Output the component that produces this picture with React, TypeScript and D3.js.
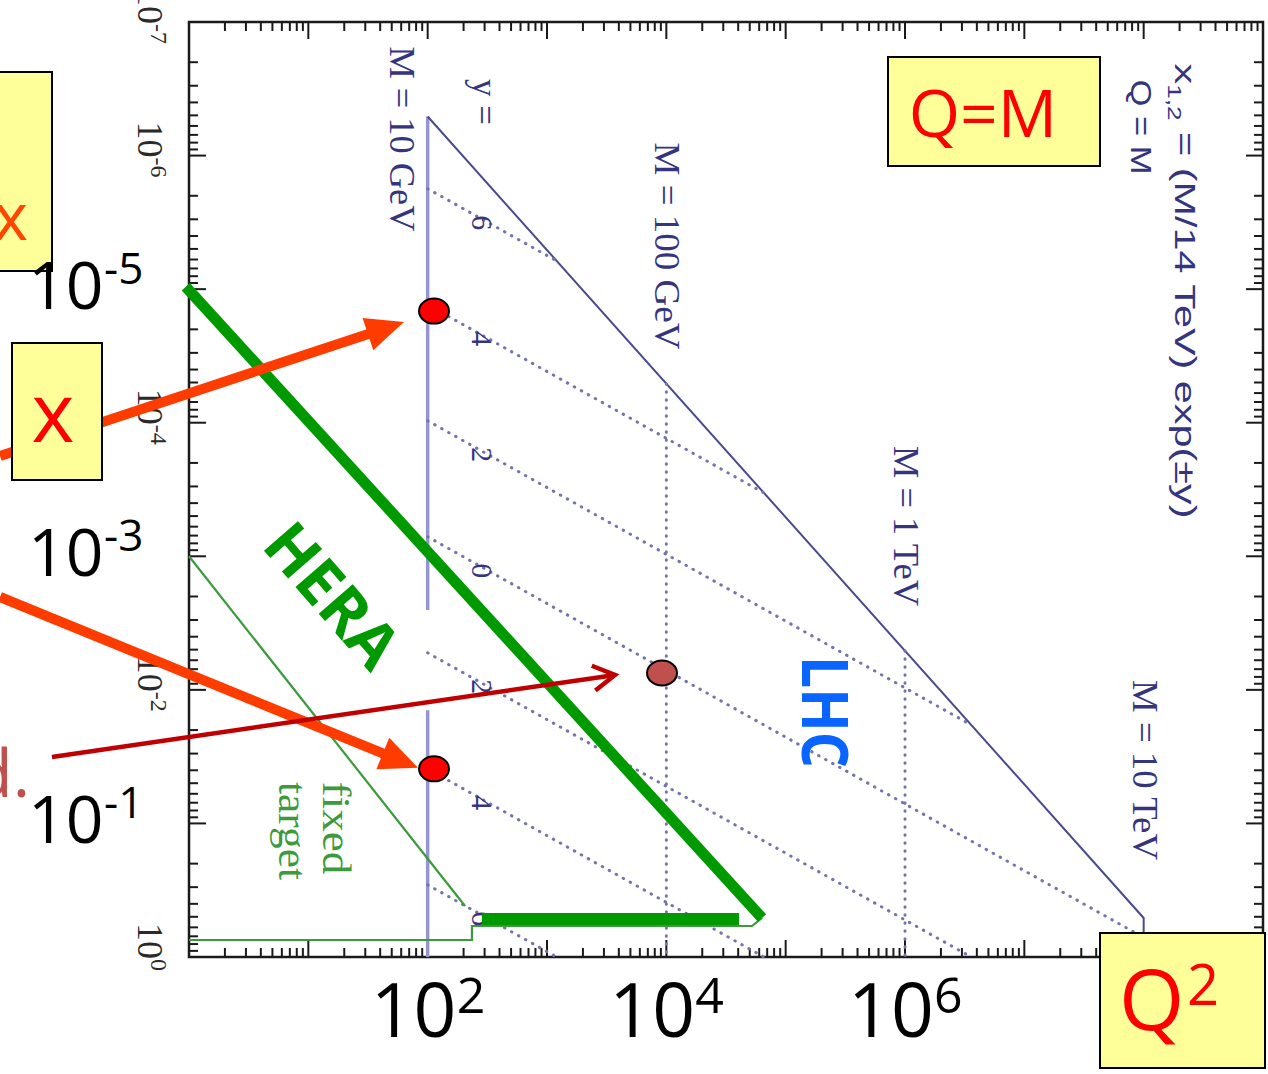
import React from "react";
import * as d3 from "d3";

const W = 1268;
const H = 1074;

// ---- axes: Q^2 (GeV^2) horizontally, parton x vertically (small x on top)
const q2Domain: [number, number] = [1, 1e9];
const xDomain: [number, number] = [1e-7, 1];
const q2Exponents = [0, 1, 2, 3, 4, 5, 6, 7, 8, 9];
const xExponents = [-7, -6, -5, -4, -3, -2, -1, 0];
const minorMultipliers = [2, 3, 4, 5, 6, 7, 8, 9];
const rotatedTickExponents = [-7, -6, -4, -2, 0];

// ---- LHC (14 TeV) kinematic region, Q = M
const limitQ2 = [100, 1e8, 1e8];
const limitX = [5.102e-7, 0.5102, 1];
// M = 10 GeV line, drawn in two pieces
const m10Q2 = 100;
const m10SegmentsX: [number, number][] = [
  [5.102e-7, 2.52e-3],
  [1.42e-2, 1],
];
// constant-mass dotted verticals
const massQ2 = [1e4, 1e6];
const massTopX = [5.102e-5, 5.102e-3];
const massLabels = ["M = 10 GeV", "M = 100 GeV", "M = 1 TeV", "M = 10 TeV"];
const massLabelQ2 = [100, 1e4, 1e6, 1e8];
const massLabelX = [7.5e-7, 4.75e-6, 5.93e-4, 0.0398];

// constant-rapidity dotted lines x = (M/14 TeV) exp(±y)
const rapidityLabels = ["6", "4", "2", "0", "2", "4", "6"];
const rapidityStartQ2 = 100;
const rapidityStartX = [1.7705e-6, 1.3083e-5, 9.667e-5, 7.1429e-4, 5.2779e-3, 0.038999, 0.28817];
const rapidityEndQ2 = [1204.2, 65751, 3.5899e6, 1e8, 3.5899e6, 65751, 1204.2];
const rapidityEndX = [6.144e-6, 3.3546e-4, 0.018316, 0.71429, 1, 1, 1];

// ---- fixed target and HERA
const fixedTargetQ2 = [1, 205.6];
const fixedTargetX = [1e-3, 0.415];
const heraEdgeQ2 = [1, 235, 235, 52240, 63400];
const heraEdgeX = [0.746, 0.746, 0.586, 0.586, 0.51];
const heraDiagQ2 = [0.94, 63400];
const heraDiagX = [9.6e-6, 0.51];
const heraFloorQ2 = [285, 40640];
const heraFloorX = [0.519, 0.519];

// ---- highlighted points
const dotQ2 = [113, 113, 9200];
const dotX = [1.46e-5, 0.039, 7.48e-3];
const dotFill = ["#ff0000", "#ff0000", "#c0504d"];

// ---- big axis labels
const bigXExponents = [2, 4, 6];
const bigYExponents = [-5, -3, -1];

const frame = { left: 189, right: 1263, top: 22, bottom: 957 };
const xS = d3.scaleLog().domain(q2Domain).range([frame.left, frame.right]);
const yS = d3.scaleLog().domain(xDomain).range([frame.top, frame.bottom]);

const NAVY = "#34347f";
const LINE_NAVY = "#4a4a8e";
const M_LINE = "#9595d0";
const DOT_LINE = "#7575ad";
const THIN_GREEN = "#3c9a3c";
const THICK_GREEN = "#009a00";
const ARROW = "#ff3c00";
const DARK_ARROW = "#c00000";
const BOX = "#ffff99";
const SANS = "'Open Sans', 'Liberation Sans', sans-serif";
const SERIF = "'Liberation Serif', 'DejaVu Serif', serif";
const HELV = "'Liberation Sans', Arial, sans-serif";

const pathOf = (qs: number[], xs: number[]) =>
  d3
    .line<number>()
    .x((_, i) => xS(qs[i]))
    .y((_, i) => yS(xs[i]))(qs) || "";

function BlockArrow({ from, tip, width, headLen, headHalf, color }: any) {
  const dx = tip[0] - from[0];
  const dy = tip[1] - from[1];
  const L = Math.hypot(dx, dy);
  const ux = dx / L;
  const uy = dy / L;
  const bx = tip[0] - headLen * ux;
  const by = tip[1] - headLen * uy;
  const px = -uy;
  const py = ux;
  return (
    <g>
      <line x1={from[0]} y1={from[1]} x2={bx + ux * 2} y2={by + uy * 2} stroke={color} strokeWidth={width} />
      <polygon
        points={`${tip[0]},${tip[1]} ${bx + headHalf * px},${by + headHalf * py} ${bx - headHalf * px},${by - headHalf * py}`}
        fill={color}
      />
    </g>
  );
}

function OpenArrow({ from, tip, width, arm, angle, color }: any) {
  const dx = tip[0] - from[0];
  const dy = tip[1] - from[1];
  const L = Math.hypot(dx, dy);
  const bx = -dx / L;
  const by = -dy / L;
  const a = (angle * Math.PI) / 180;
  const r = (s: number) => [
    tip[0] + arm * (Math.cos(s * a) * bx - Math.sin(s * a) * by),
    tip[1] + arm * (Math.sin(s * a) * bx + Math.cos(s * a) * by),
  ];
  const p1 = r(1);
  const p2 = r(-1);
  return (
    <g fill="none" stroke={color} strokeWidth={width} strokeLinejoin="miter">
      <line x1={from[0]} y1={from[1]} x2={tip[0] - 1.5 * (dx / L)} y2={tip[1] - 1.5 * (dy / L)} />
      <polyline points={`${p1[0]},${p1[1]} ${tip[0]},${tip[1]} ${p2[0]},${p2[1]}`} />
    </g>
  );
}

function VText({ x, y, size, family, fill, len, weight, children }: any) {
  return (
    <text
      transform={`translate(${x},${y}) rotate(90)`}
      textAnchor="middle"
      fontSize={size}
      fontFamily={family}
      fill={fill}
      fontWeight={weight}
      textLength={len}
      lengthAdjust={len ? "spacingAndGlyphs" : undefined}
    >
      {children}
    </text>
  );
}

export default function App() {
  const majorLen = 17;
  const minorLen = 9;

  const xTicks: { v: number; major: boolean }[] = [];
  q2Exponents.forEach((e) => {
    xTicks.push({ v: Math.pow(10, e), major: true });
    if (e < 9) minorMultipliers.forEach((m) => xTicks.push({ v: m * Math.pow(10, e), major: false }));
  });
  const yTicks: { v: number; major: boolean }[] = [];
  xExponents.forEach((e) => {
    yTicks.push({ v: Math.pow(10, e), major: true });
    if (e < 0) minorMultipliers.forEach((m) => yTicks.push({ v: m * Math.pow(10, e), major: false }));
  });

  const dots = dotQ2.map((q, i) => ({ cx: xS(q), cy: yS(dotX[i]), fill: dotFill[i] }));

  // annotation arrows, each ends just before its highlighted point
  const arrows = [
    { from: [0, 456], tip: [dots[0].cx - 30, dots[0].cy + 11], kind: "block" },
    { from: [0, 597], tip: [dots[1].cx - 16, dots[1].cy - 1], kind: "block" },
    { from: [52, 757], tip: [dots[2].cx - 47, dots[2].cy + 2], kind: "open" },
  ];

  return (
    <svg
      width={W}
      height={H}
      viewBox={`0 0 ${W} ${H}`}
      style={{ position: "absolute", left: 0, top: 0, display: "block" }}
    >
      <rect x={0} y={0} width={W} height={H} fill="#ffffff" />

      {/* frame and log ticks */}
      <g stroke="#1a1a1a" strokeWidth={2}>
        {xTicks.map((t, i) => {
          const x = xS(t.v);
          const l = t.major ? majorLen : minorLen;
          return (
            <g key={"xt" + i}>
              <line x1={x} x2={x} y1={frame.top} y2={frame.top + l} />
              <line x1={x} x2={x} y1={frame.bottom} y2={frame.bottom - l} />
            </g>
          );
        })}
        {yTicks.map((t, i) => {
          const y = yS(t.v);
          const l = t.major ? majorLen : minorLen;
          return (
            <g key={"yt" + i}>
              <line y1={y} y2={y} x1={frame.left} x2={frame.left + l} />
              <line y1={y} y2={y} x1={frame.right} x2={frame.right - l} />
            </g>
          );
        })}
        <rect
          x={frame.left}
          y={frame.top}
          width={frame.right - frame.left}
          height={frame.bottom - frame.top}
          fill="none"
          strokeWidth={2.5}
        />
      </g>

      {/* rotated x tick labels */}
      {rotatedTickExponents.map((e) => (
        <text
          key={"rl" + e}
          transform={`translate(138,${yS(Math.pow(10, e)) - 34}) rotate(90)`}
          fontFamily={SERIF}
          fontSize={36}
          fill="#2a2a2a"
        >
          10
          <tspan fontSize={24} dy={-13}>
            {e}
          </tspan>
        </text>
      ))}

      {/* LHC kinematic region */}
      {m10SegmentsX.map((s, i) => (
        <line
          key={"m10" + i}
          x1={xS(m10Q2)}
          x2={xS(m10Q2)}
          y1={yS(s[0])}
          y2={yS(s[1])}
          stroke={M_LINE}
          strokeWidth={3.5}
        />
      ))}
      <path d={pathOf(limitQ2, limitX)} fill="none" stroke={LINE_NAVY} strokeWidth={2} />
      <g fill="none" stroke={DOT_LINE} strokeWidth={3} strokeLinecap="round" strokeDasharray="0.5 7.5">
        {rapidityStartX.map((sx, i) => (
          <path key={"ry" + i} d={pathOf([rapidityStartQ2, rapidityEndQ2[i]], [sx, rapidityEndX[i]])} />
        ))}
        {massQ2.map((q, i) => (
          <path key={"mq" + i} d={pathOf([q, q], [massTopX[i], 1])} />
        ))}
      </g>

      {/* labels of the LHC region */}
      {massLabels.map((t, i) => (
        <VText
          key={"ml" + i}
          x={xS(massLabelQ2[i]) + (i === 0 ? -38 : -11)}
          y={yS(massLabelX[i])}
          size={35}
          family={SERIF}
          fill={NAVY}
          len={[185, 207, 160, 180][i]}
        >
          {t}
        </VText>
      ))}
      <VText x={473} y={102} size={35} family={SERIF} fill={NAVY}>
        y =
      </VText>
      {rapidityLabels.map((t, i) => (
        <VText key={"rlab" + i} x={472} y={yS(rapidityStartX[i]) + 34} size={30} family={SERIF} fill={NAVY}>
          {t}
        </VText>
      ))}
      <text
        transform="translate(1175,291) rotate(90)"
        textAnchor="middle"
        fontFamily={HELV}
        fontSize={30}
        fill={NAVY}
        textLength={455}
        lengthAdjust="spacingAndGlyphs"
      >
        x
        <tspan fontSize={19} dy={7}>
          1,2
        </tspan>
        <tspan dy={-7}> = (M/14 TeV) exp(±y)</tspan>
      </text>
      <VText x={1131} y={127} size={30} family={HELV} fill={NAVY} len={95}>
        Q = M
      </VText>

      {/* fixed target and HERA */}
      <g fill="none" stroke={THIN_GREEN} strokeWidth={2.2}>
        <path d={pathOf(fixedTargetQ2, fixedTargetX)} />
        <path d={pathOf(heraEdgeQ2, heraEdgeX)} />
      </g>
      <VText x={323} y={828} size={40} family={SERIF} fill={THIN_GREEN} len={93}>
        fixed
      </VText>
      <VText x={279} y={831} size={40} family={SERIF} fill={THIN_GREEN} len={98}>
        target
      </VText>
      <g fill="none" stroke={THICK_GREEN} strokeWidth={11}>
        <path d={pathOf(heraDiagQ2, heraDiagX)} />
        <path d={pathOf(heraFloorQ2, heraFloorX)} strokeWidth={12} />
      </g>
      <text
        transform="translate(334,594) rotate(49)"
        textAnchor="middle"
        dominantBaseline="central"
        fontFamily={SANS}
        fontWeight={700}
        fontSize={63}
        fill={THICK_GREEN}
      >
        HERA
      </text>
      <VText x={802} y={712} size={64} family={SANS} weight={700} fill="#0a64ff" len={112}>
        LHC
      </VText>

      {/* highlighted points */}
      {dots.map((d, i) => (
        <ellipse key={"dot" + i} cx={d.cx} cy={d.cy} rx={15} ry={12.5} fill={d.fill} stroke="#000" strokeWidth={2} />
      ))}

      {/* arrows */}
      {arrows.map((a, i) =>
        a.kind === "block" ? (
          <BlockArrow key={"ar" + i} from={a.from} tip={a.tip} width={10} headLen={38} headHalf={17} color={ARROW} />
        ) : (
          <OpenArrow key={"ar" + i} from={a.from} tip={a.tip} width={4.5} arm={25} angle={30} color={DARK_ARROW} />
        )
      )}

      {/* boxed annotations */}
      <g stroke="#000" strokeWidth={2} fill={BOX}>
        <rect x={-5} y={72} width={57} height={199} />
        <rect x={12} y={343} width={90} height={137} />
        <rect x={888} y={57} width={212} height={109} />
        <rect x={1100} y={933} width={165} height={135} />
      </g>
      <text x={28} y={240} textAnchor="end" fontFamily={SANS} fontSize={66} fill="#ff4500">
        x
      </text>
      <text x={53} y={442} textAnchor="middle" fontFamily={SANS} fontSize={82} fill="#ff0000">
        x
      </text>
      <text x={983} y={137} textAnchor="middle" fontFamily={SANS} fontSize={66} fill="#ff0000">
        Q=M
      </text>
      <text x={1119} y={1030} fontFamily={SANS} fontSize={84} fill="#ff0000">
        Q
      </text>
      <text x={1187} y={1005} fontFamily={SANS} fontSize={56} fill="#ff0000">
        2
      </text>
      <text x={30} y={797} textAnchor="end" fontFamily={SANS} fontSize={66} fill="#c0504d">
        d.
      </text>

      {/* big axis labels */}
      {bigYExponents.map((e) => {
        const base = yS(Math.pow(10, e)) + 20;
        return (
          <g key={"by" + e} fontFamily={SANS} fill="#000">
            <text x={28} y={base} fontSize={66}>
              10
            </text>
            <text x={104} y={base - 25} fontSize={44}>
              {"-" + Math.abs(e)}
            </text>
          </g>
        );
      })}
      {bigXExponents.map((e) => {
        const x0 = xS(Math.pow(10, e)) - 57;
        return (
          <g key={"bx" + e} fontFamily={SANS} fill="#000">
            <text x={x0} y={1037} fontSize={75}>
              10
            </text>
            <text x={x0 + 86} y={1013} fontSize={50}>
              {e}
            </text>
          </g>
        );
      })}
    </svg>
  );
}
